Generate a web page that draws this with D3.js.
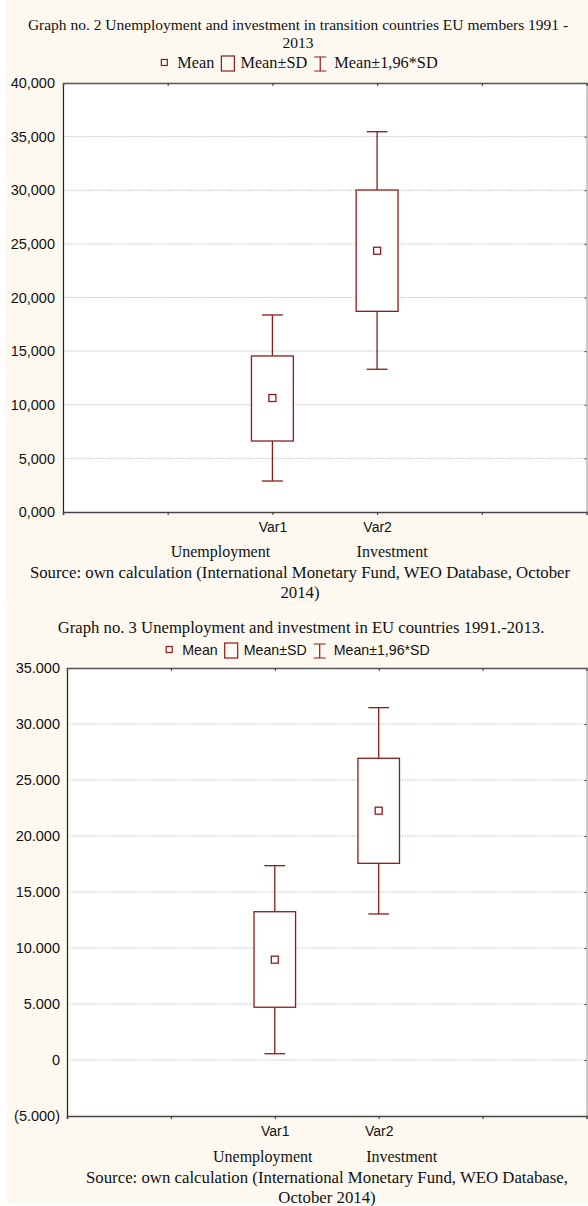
<!DOCTYPE html>
<html>
<head>
<meta charset="utf-8">
<script src="https://cdn.jsdelivr.net/npm/d3@7/dist/d3.min.js"></script>
<style>
  html, body { margin: 0; padding: 0; background: #ffffff; }
  svg { display: block; }
</style>
</head>
<body>
<svg id="chart" width="588" height="1206"></svg>
<script>
// ---- data -------------------------------------------------------------
const categories = ["Var1", "Var2"];
const groupNames = ["Unemployment", "Investment"];
const legendLabels = ["Mean", "Mean±SD", "Mean±1,96*SD"];

// Graph no. 2 – transition countries, EU members
const g2Mean    = [10.63, 24.36];
const g2SdLow   = [6.62, 18.71];
const g2SdHigh  = [14.55, 30.02];
const g2CiLow   = [2.89, 13.31];
const g2CiHigh  = [18.37, 35.46];
const g2Ticks      = [0, 5, 10, 15, 20, 25, 30, 35, 40];
const g2TickLabels = ["0,000", "5,000", "10,000", "15,000", "20,000", "25,000", "30,000", "35,000", "40,000"];

// Graph no. 3 – EU countries
const g3Mean    = [8.96, 22.26];
const g3SdLow   = [4.71, 17.56];
const g3SdHigh  = [13.24, 26.94];
const g3CiLow   = [0.56, 13.04];
const g3CiHigh  = [17.35, 31.46];
const g3Ticks      = [-5, 0, 5, 10, 15, 20, 25, 30, 35];
const g3TickLabels = ["(5.000)", "0", "5.000", "10.000", "15.000", "20.000", "25.000", "30.000", "35.000"];

// ---- styles -----------------------------------------------------------
const SERIF = "'Liberation Serif', 'Times New Roman', serif";
const SANS  = "'Liberation Sans', Arial, sans-serif";
const RED   = "#8b1c1c";
const CREAM = "#fdf9f0";

const svg = d3.select("#chart");

function drawPanel(cfg) {
  const g = svg.append("g");

  // panel background
  g.append("rect")
    .attr("x", cfg.bg[0]).attr("y", cfg.bg[1])
    .attr("width", cfg.bg[2]).attr("height", cfg.bg[3])
    .attr("fill", CREAM);

  // title lines
  cfg.title.forEach((t, i) => {
    g.append("text")
      .attr("x", cfg.titleX).attr("y", cfg.titleY + i * 18)
      .attr("text-anchor", "middle")
      .style("font-family", SERIF).style("font-size", cfg.titleSize + "px")
      .attr("fill", "#111")
      .text(t);
  });

  const m = cfg.plot; // {x0, x1, y0, y1}
  const x = d3.scaleLinear().domain([0, 5]).range([m.x0, m.x1]);
  const y = d3.scaleLinear().domain(d3.extent(cfg.ticks)).range([m.y1, m.y0]);
  const catPos = categories.map((c, i) => i + 2);

  // plot background
  g.append("rect")
    .attr("x", m.x0).attr("y", m.y0)
    .attr("width", m.x1 - m.x0).attr("height", m.y1 - m.y0)
    .attr("fill", "#ffffff");

  // horizontal grid
  g.append("g").selectAll("line")
    .data(cfg.ticks.slice(1, -1))
    .join("line")
    .attr("x1", m.x0).attr("x2", m.x1)
    .attr("y1", d => y(d)).attr("y2", d => y(d))
    .attr("stroke", "#c8c8c8").attr("stroke-width", 1)
    .attr("stroke-dasharray", "1.5,1");

  // left axis
  const left = g.append("g")
    .attr("transform", `translate(${m.x0},0)`)
    .call(d3.axisLeft(y).tickValues(cfg.ticks).tickSize(0).tickPadding(cfg.tickPad)
      .tickFormat((d, i) => cfg.tickLabels[i]));
  left.select(".domain").attr("stroke", "#222").attr("stroke-width", 1.2);
  left.selectAll("text").style("font-family", SANS).style("font-size", "14.5px").attr("fill", "#111");

  // right axis
  const right = g.append("g")
    .attr("transform", `translate(${m.x1},0)`)
    .call(d3.axisLeft(y).tickValues(cfg.ticks).tickSize(2).tickFormat(""));
  right.select(".domain").attr("stroke", "#9a9a9a").attr("stroke-width", 1);
  right.selectAll(".tick line").attr("stroke", "#333");

  // top axis
  const top = g.append("g")
    .attr("transform", `translate(0,${m.y0})`)
    .call(d3.axisBottom(x).tickValues([1, 2, 3, 4]).tickSize(3).tickFormat(""));
  top.select(".domain").attr("stroke", "#555").attr("stroke-width", 1.6);
  top.selectAll(".tick line").attr("stroke", "#333");

  // bottom axis with category labels
  const bottom = g.append("g")
    .attr("transform", `translate(0,${m.y1})`)
    .call(d3.axisBottom(x).tickValues([1, 2, 3, 4]).tickSize(3).tickPadding(7)
      .tickFormat(d => { const k = catPos.indexOf(d); return k >= 0 ? categories[k] : ""; }));
  bottom.select(".domain").attr("stroke", "#444").attr("stroke-width", 1.6);
  bottom.selectAll(".tick line").attr("stroke", "#333");
  bottom.selectAll("text").style("font-family", SANS).style("font-size", "14px").attr("fill", "#111");

  // boxes, whiskers and means
  const step = x(1) - x(0);
  const boxW = step * 0.4;
  const capW = step * 0.2;
  const rows = categories.map((c, i) => ({
    c, pos: catPos[i],
    mean: cfg.mean[i], sdLo: cfg.sdLow[i], sdHi: cfg.sdHigh[i],
    ciLo: cfg.ciLow[i], ciHi: cfg.ciHigh[i]
  }));
  const marks = g.append("g").selectAll("g").data(rows).join("g")
    .attr("fill", "none").attr("stroke", RED).attr("stroke-width", 1.3);

  marks.append("line")
    .attr("x1", d => x(d.pos)).attr("x2", d => x(d.pos))
    .attr("y1", d => y(d.ciHi)).attr("y2", d => y(d.sdHi));
  marks.append("line")
    .attr("x1", d => x(d.pos)).attr("x2", d => x(d.pos))
    .attr("y1", d => y(d.sdLo)).attr("y2", d => y(d.ciLo));
  marks.append("line")
    .attr("x1", d => x(d.pos) - capW / 2).attr("x2", d => x(d.pos) + capW / 2)
    .attr("y1", d => y(d.ciHi)).attr("y2", d => y(d.ciHi));
  marks.append("line")
    .attr("x1", d => x(d.pos) - capW / 2).attr("x2", d => x(d.pos) + capW / 2)
    .attr("y1", d => y(d.ciLo)).attr("y2", d => y(d.ciLo));
  marks.append("rect")
    .attr("x", d => x(d.pos) - boxW / 2).attr("width", boxW)
    .attr("y", d => y(d.sdHi)).attr("height", d => y(d.sdLo) - y(d.sdHi))
    .attr("fill", "#ffffff");
  marks.append("rect")
    .attr("x", d => x(d.pos) - 3.5).attr("y", d => y(d.mean) - 3.5)
    .attr("width", 7).attr("height", 7)
    .attr("fill", "#ffffff");

  // legend
  const leg = g.append("g");
  const ly = cfg.legendY;
  const lfont = cfg.legendSerif ? SERIF : SANS;
  const lsize = cfg.legendSerif ? 16.3 : 14.2;
  let cx = 0;
  leg.append("rect").attr("x", cx).attr("y", ly - 8.5).attr("width", 6).attr("height", 6)
    .attr("fill", "none").attr("stroke", RED).attr("stroke-width", 1.2);
  cx += 6 + 10;
  legendLabels.forEach((lab, i) => {
    const t = leg.append("text").attr("x", cx).attr("y", ly)
      .style("font-family", lfont).style("font-size", lsize + "px").attr("fill", "#111")
      .text(lab);
    cx += t.node().getComputedTextLength();
    if (i === 0) {
      cx += 7;
      leg.append("rect").attr("x", cx).attr("y", ly - 12).attr("width", 13).attr("height", 15)
        .attr("fill", "none").attr("stroke", RED).attr("stroke-width", 1.2);
      cx += 13 + 6;
    } else if (i === 1) {
      cx += 7;
      const ix = cx + 6;
      leg.append("path")
        .attr("d", `M${ix - 6},${ly - 11}H${ix + 6}M${ix},${ly - 11}V${ly + 3}M${ix - 6},${ly + 3}H${ix + 6}`)
        .attr("fill", "none").attr("stroke", RED).attr("stroke-width", 1.2);
      cx += 12 + 8;
    }
  });
  leg.attr("transform", `translate(${cfg.legendX - cx / 2},0)`);

  // group names under the categories
  groupNames.forEach((n, i) => {
    g.append("text")
      .attr("x", x(catPos[i]) + cfg.groupOffset[i]).attr("y", cfg.groupY)
      .attr("text-anchor", "middle")
      .style("font-family", SERIF).style("font-size", "16px").attr("fill", "#111")
      .text(n);
  });

  // source note
  cfg.source.forEach((s, i) => {
    g.append("text")
      .attr("x", cfg.sourceX).attr("y", cfg.sourceY + i * 20)
      .attr("text-anchor", "middle")
      .style("font-family", SERIF).style("font-size", cfg.sourceSize + "px").attr("fill", "#111")
      .text(s);
  });
}

drawPanel({
  bg: [5, 0, 583, 607],
  title: ["Graph no. 2 Unemployment and investment in transition countries EU members 1991 -", "2013"],
  titleX: 298, titleY: 30, titleSize: 15.5,
  legendX: 299.5, legendY: 68, legendSerif: true,
  plot: { x0: 63, x1: 586.5, y0: 83, y1: 512 },
  ticks: g2Ticks, tickLabels: g2TickLabels, tickPad: 8,
  mean: g2Mean, sdLow: g2SdLow, sdHigh: g2SdHigh, ciLow: g2CiLow, ciHigh: g2CiHigh,
  groupY: 557, groupOffset: [-52, 15],
  source: ["Source: own calculation (International Monetary Fund, WEO Database, October", "2014)"],
  sourceX: 300, sourceY: 578, sourceSize: 16.8
});

drawPanel({
  bg: [7, 608, 581, 596],
  title: ["Graph no. 3 Unemployment and investment in EU countries 1991.-2013."],
  titleX: 301, titleY: 633, titleSize: 16.7,
  legendX: 298, legendY: 655, legendSerif: false,
  plot: { x0: 67, x1: 586.5, y0: 668, y1: 1116 },
  ticks: g3Ticks, tickLabels: g3TickLabels, tickPad: 7,
  mean: g3Mean, sdLow: g3SdLow, sdHigh: g3SdHigh, ciLow: g3CiLow, ciHigh: g3CiHigh,
  groupY: 1162, groupOffset: [-12, 23],
  source: ["Source: own calculation (International Monetary Fund, WEO Database,", "October 2014)"],
  sourceX: 327, sourceY: 1183, sourceSize: 16.8
});
</script>
</body>
</html>
